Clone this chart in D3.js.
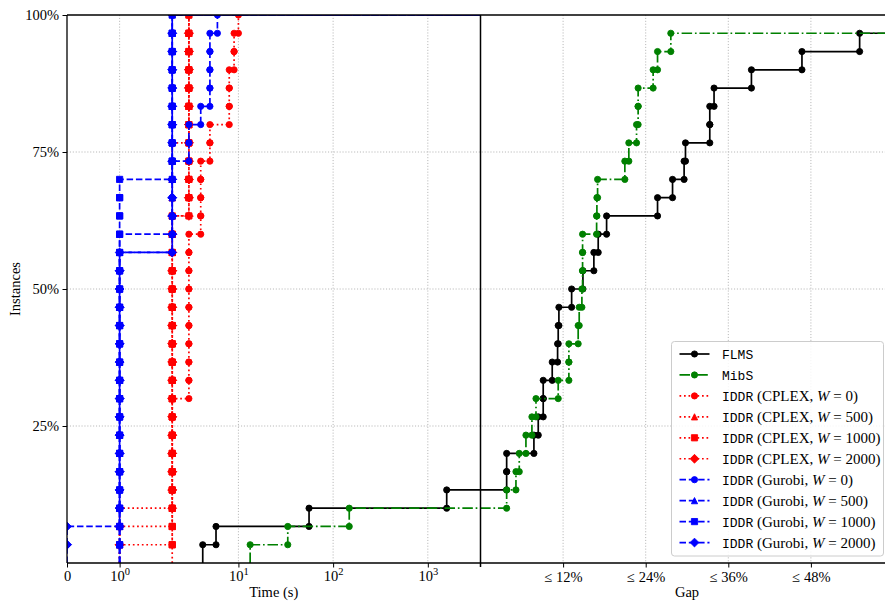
<!DOCTYPE html>
<html>
<head>
<meta charset="utf-8">
<script src="https://cdn.jsdelivr.net/npm/d3@7"></script>
<style>
  body { margin: 0; background: #ffffff; }
  svg { display: block; }
  text { font-family: "Liberation Serif", "Times New Roman", serif; fill: #000; }
  .mono { font-family: "Liberation Mono", "DejaVu Sans Mono", monospace; }
</style>
</head>
<body>
<svg id="chart" width="885" height="603"></svg>
<script>
// ---- data -------------------------------------------------------------
const instanceCount = 30;
const timeLimit = 3600;               // seconds; runs past this are ranked by gap
const timeTicks = [0, 1, 10, 100, 1000];
const gapTicks = [12, 24, 36, 48];
const shareTicks = [0.25, 0.5, 0.75, 1];

// solve times (s) of instances finished within the limit, sorted
const flmsTimes = [4.2, 5.8, 55.7, 1583];
// final gaps (%) of the remaining instances, sorted
const flmsGaps = [3.8, 3.8, 7.76, 8.39, 9.11, 9.11, 10.42, 11.2, 11.29, 11.39, 13.24, 14.88,
                  16.47, 17.1, 18.32, 25.72, 27.9, 29.58, 29.78, 33.31, 33.31, 33.93, 39.36,
                  46.7, 55.08];

const mibsTimes = [13.3, 33.2, 148];
const mibsGaps = [3.8, 5.15, 5.63, 6.6, 7.47, 8.06, 11.29, 12.84, 12.84, 14.19, 14.34, 14.73,
                  14.83, 14.83, 14.83, 16.87, 16.91, 17.01, 20.97, 21.55, 22.67, 22.9, 22.9,
                  25.08, 25.72, 27.65];

const cplexW0 = [1, 2, 2, 2, 2, 2, 2, 2, 2, 3, 3, 3, 3, 3, 3, 3, 3, 3,
                 4, 4, 4, 4, 5, 5, 8, 8, 8, 9, 9, 10];
const cplexW500 = [1, 1, 2, 2, 2, 2, 2, 2, 2, 2, 2, 2, 2, 2, 2, 2, 2, 2, 2, 2, 2, 2, 2,
                   3, 3, 3, 3, 3, 3, 3];
const cplexW1000 = [2, 2, 2, 2, 2, 2, 2, 2, 2, 2, 2, 2, 2, 2, 2, 2, 2, 2, 2,
                    3, 3, 3, 3, 3, 3, 3, 3, 3, 3, 3];
const cplexW2000 = [1, 1, 1, 2, 2, 2, 2, 2, 2, 2, 2, 2, 2, 2, 2, 2, 2, 2, 2,
                    3, 3, 3, 3, 3, 3, 3, 3, 3, 3, 3];

const gurobiW0 = [1, 1, 1, 1, 1, 1, 1, 1, 1, 1, 1, 1, 1, 1, 1, 1, 1,
                  2, 2, 2, 2, 2, 3, 3, 4, 5, 5, 5, 5, 6];
const gurobiW500 = [1, 1, 1, 1, 1, 1, 1, 1, 1, 1, 1, 1, 1, 1, 1, 1, 1, 1,
                    2, 2, 2, 2, 2, 2, 2, 2, 2, 2, 2, 2];
const gurobiW1000 = [1, 1, 1, 1, 1, 1, 1, 1, 1, 1, 1, 1, 1, 1, 1, 1, 1, 1, 1, 1, 1,
                     2, 2, 2, 2, 2, 2, 2, 2, 2];
const gurobiW2000 = [0, 0, 1, 1, 1, 1, 1, 1, 1, 1, 1, 1, 1, 1, 1, 1, 1,
                     2, 2, 2, 2, 2, 2, 2, 2, 2, 2, 2, 2, 2];

// ---- series styling ---------------------------------------------------
const RED = "#ff0000", BLUE = "#0000ff";
const DOT = "1.7,2.8", DASH = "6.5,2.8", DASHDOT = "10.5,2.8,1.7,2.8";
const iddr = (solver, w) => [["mono", "IDDR"], ["serif", ` (${solver}, `], ["italic", "W"], ["serif", ` = ${w})`]];

const series = [
  { label: [["mono", "FLMS"]], color: "#000000", dash: null, marker: "circle", times: flmsTimes, gaps: flmsGaps, toEdge: true },
  { label: [["mono", "MibS"]], color: "#008000", dash: DASHDOT, marker: "circle", times: mibsTimes, gaps: mibsGaps, toEdge: true },
  { label: iddr("CPLEX", 0), color: RED, dash: DOT, marker: "circle", times: cplexW0, gaps: [] },
  { label: iddr("CPLEX", 500), color: RED, dash: DOT, marker: "triangle", times: cplexW500, gaps: [] },
  { label: iddr("CPLEX", 1000), color: RED, dash: DOT, marker: "square", times: cplexW1000, gaps: [] },
  { label: iddr("CPLEX", 2000), color: RED, dash: DOT, marker: "diamond", times: cplexW2000, gaps: [] },
  { label: iddr("Gurobi", 0), color: BLUE, dash: DASH, marker: "circle", times: gurobiW0, gaps: [] },
  { label: iddr("Gurobi", 500), color: BLUE, dash: DASH, marker: "triangle", times: gurobiW500, gaps: [] },
  { label: iddr("Gurobi", 1000), color: BLUE, dash: DASH, marker: "square", times: gurobiW1000, gaps: [] },
  { label: iddr("Gurobi", 2000), color: BLUE, dash: DASH, marker: "diamond", times: gurobiW2000, gaps: [] }
];

// ---- geometry ---------------------------------------------------------
const plot = { left: 67, right: 893.5, top: 15, bottom: 563 };
const splitX = 480.5;   // where the time limit sits

// symmetric-log transform (linear below 2 s, logarithmic above)
const LINTHRESH = 2, LINSCALE = 1 / (1 - 1 / 10);
const symlog = t => t <= LINTHRESH ? t * LINSCALE : LINTHRESH * (LINSCALE + Math.log10(t / LINTHRESH));

const xt = d3.scaleLinear().domain([0, symlog(timeLimit)]).range([plot.left, splitX]);
const xTime = t => xt(symlog(t));
const xGap = d3.scaleLinear().domain([0, 60]).range([splitX, plot.right]);
const y = d3.scaleLinear().domain([0, 1]).range([plot.bottom, plot.top]);

const svg = d3.select("#chart");
svg.append("defs").append("clipPath").attr("id", "plotClip")
  .append("rect").attr("x", plot.left).attr("y", plot.top)
  .attr("width", plot.right - plot.left).attr("height", plot.bottom - plot.top);

// ---- grid -------------------------------------------------------------
const grid = svg.append("g").attr("stroke", "#b0b0b0").attr("stroke-width", 0.9)
  .attr("stroke-dasharray", "1.1,1.8");
timeTicks.filter(t => t > 0).forEach(t => {
  grid.append("line").attr("x1", xTime(t)).attr("x2", xTime(t)).attr("y1", plot.top).attr("y2", plot.bottom);
});
gapTicks.forEach(g => {
  grid.append("line").attr("x1", xGap(g)).attr("x2", xGap(g)).attr("y1", plot.top).attr("y2", plot.bottom);
});
shareTicks.filter(s => s < 1).forEach(s => {
  grid.append("line").attr("x1", plot.left).attr("x2", plot.right).attr("y1", y(s)).attr("y2", y(s));
});

// ---- marker shapes ----------------------------------------------------
const R = 3.1;
const shapes = {
  circle: { draw(ctx) { ctx.moveTo(R, 0); ctx.arc(0, 0, R, 0, 2 * Math.PI); } },
  triangle: { draw(ctx) { ctx.moveTo(0, -R); ctx.lineTo(R, R); ctx.lineTo(-R, R); ctx.closePath(); } },
  square: { draw(ctx) { ctx.rect(-R, -R, 2 * R, 2 * R); } },
  diamond: { draw(ctx) { const d = R * Math.SQRT2; ctx.moveTo(0, -d); ctx.lineTo(d, 0); ctx.lineTo(0, d); ctx.lineTo(-d, 0); ctx.closePath(); } }
};
const symbolPath = name => d3.symbol().type(shapes[name])();

// ---- profile curves ---------------------------------------------------
const lineGen = d3.line().x(d => d[0]).y(d => d[1]);
const plotArea = svg.append("g").attr("clip-path", "url(#plotClip)");

series.forEach(s => {
  const xs = s.times.map(xTime).concat(s.gaps.map(xGap));
  const pts = [[xs[0], y(0)]];
  const marks = [];
  xs.forEach((x, i) => {
    if (i > 0) { pts.push([x, y(i / instanceCount)]); marks.push([x, y(i / instanceCount)]); }
    pts.push([x, y((i + 1) / instanceCount)]);
    marks.push([x, y((i + 1) / instanceCount)]);
  });
  const endX = s.toEdge ? plot.right + 20 : xTime(timeLimit);
  pts.push([endX, y(xs.length / instanceCount)]);

  const g = plotArea.append("g");
  g.append("path").attr("d", lineGen(pts)).attr("fill", "none")
    .attr("stroke", s.color).attr("stroke-width", 1.7)
    .attr("stroke-linejoin", "round")
    .attr("stroke-dasharray", s.dash);
  g.selectAll("path.mk").data(marks).join("path").attr("class", "mk")
    .attr("d", symbolPath(s.marker))
    .attr("transform", d => `translate(${d[0]},${d[1]})`)
    .attr("fill", s.color).attr("stroke", s.color).attr("stroke-width", 0.9);
});

// ---- time-limit divider and spines -----------------------------------
svg.append("line").attr("x1", splitX).attr("x2", splitX).attr("y1", plot.top).attr("y2", plot.bottom + 4)
  .attr("stroke", "#000").attr("stroke-width", 1.5);
const spines = svg.append("g").attr("stroke", "#000").attr("stroke-width", 1.3);
spines.append("line").attr("x1", plot.left).attr("x2", plot.left).attr("y1", plot.top).attr("y2", plot.bottom);
spines.append("line").attr("x1", plot.left).attr("x2", plot.right).attr("y1", plot.bottom).attr("y2", plot.bottom);
spines.append("line").attr("x1", plot.left).attr("x2", plot.right).attr("y1", plot.top).attr("y2", plot.top);

// ---- axes -------------------------------------------------------------
const FS = 14.5;
const timeAxis = d3.axisBottom(xt).tickValues(timeTicks.map(symlog)).tickSize(4.5).tickPadding(3).tickFormat("");
const ta = svg.append("g").attr("transform", `translate(0,${plot.bottom})`).call(timeAxis);
ta.select(".domain").remove();
ta.selectAll(".tick line").attr("stroke", "#000").attr("stroke-width", 1);
ta.selectAll(".tick").each(function (_, i) {
  const t = timeTicks[i];
  const txt = d3.select(this).append("text").attr("y", 18).attr("text-anchor", "middle")
    .attr("font-size", FS);
  if (t === 0) { txt.text("0"); }
  else {
    txt.append("tspan").text("10");
    txt.append("tspan").attr("dy", -6).attr("font-size", 10.5).text(String(Math.round(Math.log10(t))));
  }
});

const gapAxis = d3.axisBottom(xGap).tickValues(gapTicks).tickSize(4.5).tickPadding(3).tickFormat("");
const ga = svg.append("g").attr("transform", `translate(0,${plot.bottom})`).call(gapAxis);
ga.select(".domain").remove();
ga.selectAll(".tick line").attr("stroke", "#000").attr("stroke-width", 1);
ga.selectAll(".tick").append("text").attr("y", 19).attr("text-anchor", "middle")
  .attr("font-size", FS).text(d => `≤ ${d}%`);

const shareAxis = d3.axisLeft(y).tickValues(shareTicks).tickSize(4.5).tickPadding(3).tickFormat("");
const sa = svg.append("g").attr("transform", `translate(${plot.left},0)`).call(shareAxis);
sa.select(".domain").remove();
sa.selectAll(".tick line").attr("stroke", "#000").attr("stroke-width", 1);
sa.selectAll(".tick").append("text").attr("x", -8).attr("dy", "0.34em").attr("text-anchor", "end")
  .attr("font-size", FS).text(d => `${Math.round(d * 100)}%`);

svg.append("text").attr("x", (plot.left + splitX) / 2).attr("y", 597).attr("text-anchor", "middle")
  .attr("font-size", FS).text("Time (s)");
svg.append("text").attr("x", (splitX + plot.right) / 2).attr("y", 597).attr("text-anchor", "middle")
  .attr("font-size", FS).text("Gap");
svg.append("text").attr("transform", `translate(20,${(plot.top + plot.bottom) / 2}) rotate(-90)`)
  .attr("text-anchor", "middle").attr("font-size", FS).text("Instances");

// ---- legend -----------------------------------------------------------
const LFS = 15;
const leg = svg.append("g");
leg.append("rect").attr("x", 671.5).attr("y", 341.5).attr("width", 212).attr("height", 214.5)
  .attr("rx", 3).attr("fill", "#ffffff").attr("fill-opacity", 0.85)
  .attr("stroke", "#cccccc").attr("stroke-width", 1);
series.forEach((s, i) => {
  const cy = 354 + i * 20.95;
  leg.append("line").attr("x1", 679.5).attr("x2", 709.5).attr("y1", cy).attr("y2", cy)
    .attr("stroke", s.color).attr("stroke-width", 1.7).attr("stroke-dasharray", s.dash);
  leg.append("path").attr("d", symbolPath(s.marker)).attr("transform", `translate(694.5,${cy})`)
    .attr("fill", s.color).attr("stroke", s.color).attr("stroke-width", 0.9);
  const t = leg.append("text").attr("x", 722).attr("y", cy + 5).attr("font-size", LFS);
  s.label.forEach(([kind, str]) => {
    const sp = t.append("tspan").text(str);
    if (kind === "mono") sp.attr("class", "mono").attr("font-size", 13);
    if (kind === "italic") sp.attr("font-style", "italic");
  });
});
</script>
</body>
</html>
